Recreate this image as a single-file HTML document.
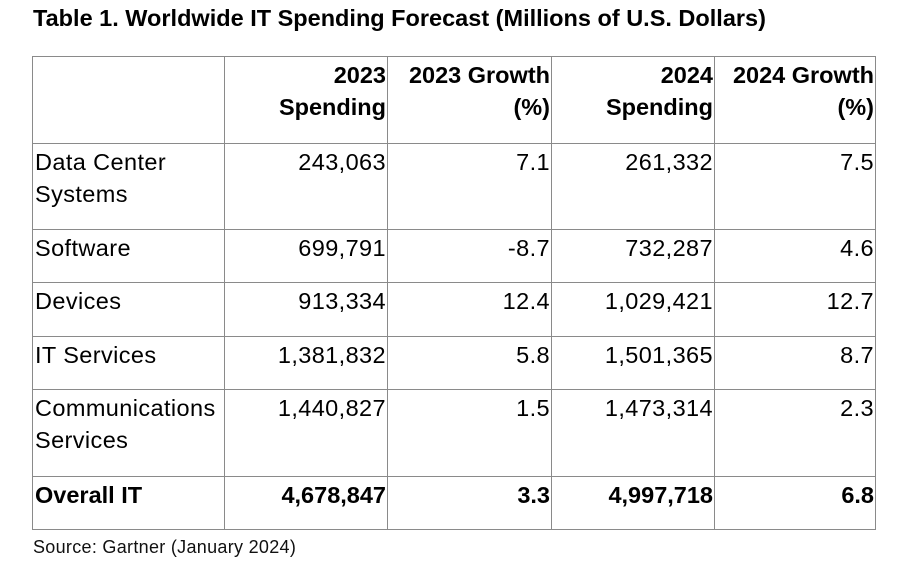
<!DOCTYPE html>
<html><head><meta charset="utf-8"><style>
body{margin:0;width:918px;height:563px;background:#fff;position:relative;overflow:hidden;font-family:"Liberation Sans",sans-serif;color:#000}
#title{position:absolute;left:33px;top:5px;font-size:23.5px;font-weight:bold;letter-spacing:0px;white-space:nowrap}
.c{position:absolute;box-sizing:border-box;font-size:23.5px;letter-spacing:0.4px;line-height:32px;padding:2px 1px 0 2px;white-space:nowrap}
.r{text-align:right}
.b{font-weight:bold;letter-spacing:0px}
.hl,.vl{position:absolute;background:#8a8a8a}
.hl{height:1px;left:32px;width:844px}
.vl{width:1px;top:56px;height:474px}
#src{position:absolute;left:33px;top:537px;font-size:18px;letter-spacing:0.3px;color:#111}
</style></head><body>
<div id="title">Table 1. Worldwide IT Spending Forecast (Millions of U.S. Dollars)</div>
<div id="grid"></div>
<div id="cells"></div>
<div id="src">Source: Gartner (January 2024)</div>
<script>
const cols=[32,224,387,551,714,875];
const rows=[56,143,229,282,336,389,476,529];
const headers=[["",""],["2023","Spending"],["2023 Growth","(%)"],["2024","Spending"],["2024 Growth","(%)"]];
const categories=[["Data Center","Systems"],["Software"],["Devices"],["IT Services"],["Communications","Services"],["Overall IT"]];
const spend2023=["243,063","699,791","913,334","1,381,832","1,440,827","4,678,847"];
const growth2023=["7.1","-8.7","12.4","5.8","1.5","3.3"];
const spend2024=["261,332","732,287","1,029,421","1,501,365","1,473,314","4,997,718"];
const growth2024=["7.5","4.6","12.7","8.7","2.3","6.8"];
const g=document.getElementById('grid');
rows.forEach(y=>{const d=document.createElement('div');d.className='hl';d.style.top=y+'px';


g.appendChild(d);});
cols.forEach(x=>{const d=document.createElement('div');d.className='vl';d.style.left=x+'px';


g.appendChild(d);});
const cc=document.getElementById('cells');
function cell(ci,ri,html,cls,name){const d=document.createElement('div');d.className='c '+cls;
d.style.left=(cols[ci]+1)+'px';d.style.width=(cols[ci+1]-cols[ci]-1)+'px';d.style.top=(rows[ri]+1)+'px';d.innerHTML=html;


cc.appendChild(d);}
headers.forEach((h,i)=>{if(i>0)cell(i,0,h.join('<br>'),'r b','header-cell');});
categories.forEach((c,i)=>{const bold=i===categories.length-1?' b':'';
cell(0,i+1,c.join('<br>'),bold,'category-label');
cell(1,i+1,spend2023[i],'r'+bold,'spending-2023');
cell(2,i+1,growth2023[i],'r'+bold,'growth-2023');
cell(3,i+1,spend2024[i],'r'+bold,'spending-2024');
cell(4,i+1,growth2024[i],'r'+bold,'growth-2024');});
</script>
</body></html>
